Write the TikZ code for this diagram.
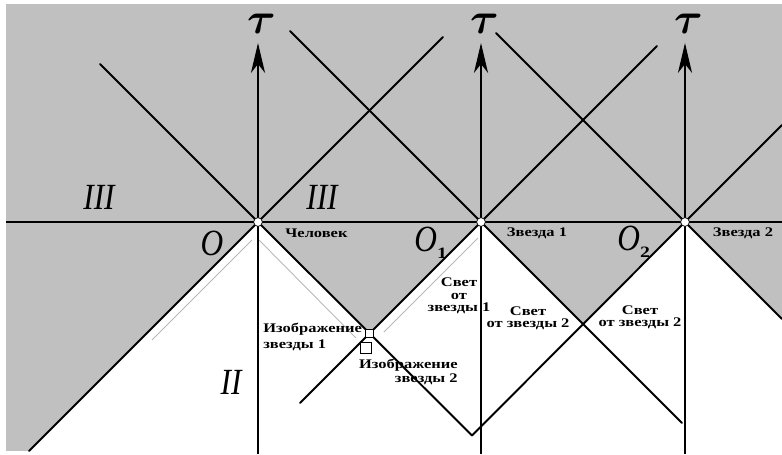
\documentclass[tikz,border=0pt]{standalone}
\usepackage{fontspec}
\usepackage{amsmath}
\setmainfont{Liberation Serif}
\newfontfamily\lblfont[FakeStretch=1.25]{Liberation Serif}
\newfontfamily\romfont[FakeStretch=0.85]{Liberation Serif}
\usetikzlibrary{arrows.meta,positioning}
\definecolor{bggray}{RGB}{192,192,192}

\begin{document}
\begin{tikzpicture}[
    x=0.02cm, y=-0.02cm,
    cone/.style={line width=1.1pt, line cap=round},
    axis/.style={line width=1.1pt, -{Stealth[length=17pt, width=8pt, inset=5pt]}},
    ray/.style={gray!55, line width=0.5pt},
    lbl/.style={font=\lblfont\bfseries\fontsize{7.5}{7}\selectfont, inner sep=0pt, align=center},
    rom/.style={font=\romfont\itshape\fontsize{21}{21}\selectfont, inner sep=0pt},
    taulbl/.style={font=\Huge, inner sep=0pt},
    origin/.style={circle, draw, fill=white, line width=0.4pt, inner sep=0pt, minimum size=5pt},
    marker/.style={draw, fill=white, line width=0.6pt, inner sep=0pt, minimum size=5pt}
]
\useasboundingbox (0,0) rectangle (782,454);
\fill[white] (0,0) rectangle (782,454);
\fill[bggray] (6,4) rectangle (782,451);

% events on the axis
\coordinate (O) at (258,222);
\coordinate (O1) at (481,222);
\coordinate (O2) at (685,222);
\coordinate (V1) at (369.5,333.5);
\coordinate (V2) at (583,324);
\coordinate (Vb) at (472,435.5);
% free ends of the cone lines
\coordinate (aUL) at (100,64);
\coordinate (aUR) at (443,37);
\coordinate (aDL) at (29,451);
\coordinate (bUL) at (290,31);
\coordinate (bUR) at (657,46);
\coordinate (bDL) at (300,403);
\coordinate (bDR) at (682,423);
\coordinate (cUL) at (496,33);
\coordinate (cUR) at (782,125);
\coordinate (cDR) at (782,319);

% past region in white
\fill[white] (aDL) -- (O) -- (V1) -- (O1) -- (V2) -- (O2) -- (cDR) -- (782,451) -- cycle;

% thin light rays
\draw[ray] (252,240) -- (152,340);
\draw[ray] (259,240) -- (356,338);
\draw[ray] (478,238) -- (384,332);

% axes
\draw[line width=1.4pt] (6,222) coordinate (hL) -- (782,222) coordinate (hR);
\foreach \p/\n in {258/tA,481/tB,685/tC} {
    \coordinate (\n) at (\p,43);
    \draw[axis] (\p,454) -- (\n);
    \node[taulbl, above=5pt of \n, xshift=2pt] {$\boldsymbol{\tau}$};
}

% light cones
\foreach \a/\b in {O/aUL,O/aUR,O/aDL,O/Vb,O1/bUL,O1/bUR,O1/bDL,O1/bDR,O2/cUL,O2/cUR,O2/Vb,O2/cDR} {
    \draw[cone] (\a) -- (\b);
}

\foreach \n in {O,O1,O2} {
    \node[origin] at (\n) {};
}
\node[marker] (img1) at (V1) {};
\node[marker, minimum size=6pt] (img2) at (366,348) {};

% labels
\node[rom] (r3a) at (99,197) {III};
\node[rom] (r3b) at (322,197) {III};
\node[rom] (r2) at (231,382) {II};
\node[rom] (lO) at (212,243) {O};
\node[rom, anchor=west] (lO1) at (414,243) {O\raisebox{-4pt}{\lblfont\bfseries\upshape\fontsize{9}{9}\selectfont 1}};
\node[rom, anchor=west] (lO2) at (617,242) {O\raisebox{-4pt}{\lblfont\bfseries\upshape\fontsize{9}{9}\selectfont 2}};

\node[lbl, anchor=west] (man) at (285,233) {Человек};
\node[lbl] (star1) at (537,233) {Звезда 1};
\node[lbl] (star2) at (743,233) {Звезда 2};
\node[lbl] (light1) at (459,296) {Свет\\от\\звезды 1};
\node[lbl] (light2a) at (528,318) {Свет\\от звезды 2};
\node[lbl] (light2b) at (640,317) {Свет\\от звезды 2};
\node[lbl, align=left, anchor=west, font=\lblfont\bfseries\fontsize{7.5}{9}\selectfont] (image1) at (263,337) {Изображение\\звезды 1};
\node[lbl, align=right, anchor=east, font=\lblfont\bfseries\fontsize{7.5}{8}\selectfont] (image2) at (458,372) {Изображение\\звезды 2};
\end{tikzpicture}
\end{document}
